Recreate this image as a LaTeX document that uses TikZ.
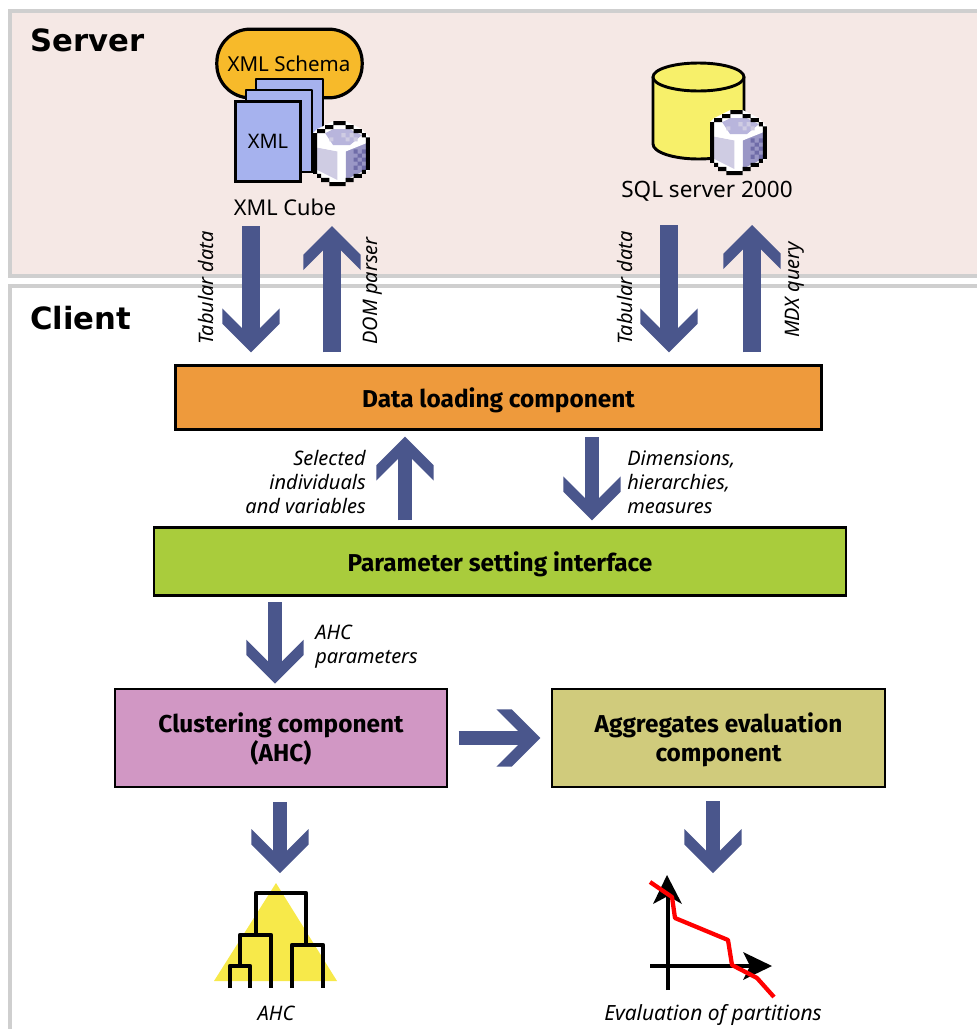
\documentclass[tikz,border=0pt]{standalone}
\usepackage{fontspec}
\setmainfont{Noto Sans}
\newfontfamily\headfont{DejaVu Sans}
\newfontfamily\boxfont{Fira Sans}
\usetikzlibrary{arrows.meta,calc,shapes.geometric}
\definecolor{flowblue}{HTML}{4A568C}
\definecolor{panelbg}{HTML}{F5E8E5}
\definecolor{panelline}{HTML}{CFCFCF}
\definecolor{loadc}{HTML}{EE9A3C}
\definecolor{paramc}{HTML}{A9CC3C}
\definecolor{clusterc}{HTML}{D197C4}
\definecolor{aggc}{HTML}{D0CB7C}
\definecolor{schemac}{HTML}{F7BA2A}
\definecolor{pagec}{HTML}{A6B2EE}
\definecolor{cylc}{HTML}{F7F06A}
\definecolor{triac}{HTML}{F7E94A}
\definecolor{cubel}{HTML}{CFCCE3}
\definecolor{cuber}{HTML}{9A97C6}
\definecolor{cubet}{HTML}{B8B5DC}
\definecolor{cubed}{HTML}{6F6CA8}
\makeatletter
\pgfdeclarearrow{
  name=Chevron,
  parameters={\the\pgfarrowlength,\the\pgfarrowwidth},
  setup code={
    \pgfarrowssettipend{0pt}
    \pgfarrowssetbackend{-\pgfarrowlength}
    \pgf@xa=\pgfarrowlength
    \advance\pgf@xa by -0.5\pgfarrowwidth
    \advance\pgf@xa by 0.5\pgflinewidth
    \pgf@xb=\pgf@xa
    \advance\pgf@xb by -1pt
    \pgfarrowssetlineend{-\pgf@xb}
    \pgfarrowssavethe\pgfarrowlength
    \pgfarrowssavethe\pgfarrowwidth
    \pgfarrowssavethe\pgflinewidth
    \pgfarrowssavethe\pgf@xa
  },
  drawing code={
    \pgfpathmoveto{\pgfqpoint{0pt}{0pt}}
    \pgfpathlineto{\pgfqpoint{-0.5\pgfarrowwidth}{0.5\pgfarrowwidth}}
    \pgfpathlineto{\pgfqpoint{-\pgfarrowlength}{0.5\pgfarrowwidth}}
    \pgfpathlineto{\pgfqpoint{-\pgf@xa}{0.5\pgflinewidth}}
    \pgfpathlineto{\pgfqpoint{-\pgf@xa}{-0.5\pgflinewidth}}
    \pgfpathlineto{\pgfqpoint{-\pgfarrowlength}{-0.5\pgfarrowwidth}}
    \pgfpathlineto{\pgfqpoint{-0.5\pgfarrowwidth}{-0.5\pgfarrowwidth}}
    \pgfpathclose
    \pgfusepathqfill
  },
  defaults={length=33pt,width=43pt}
}
\makeatother
\tikzset{
  panel/.style={fill=panelbg,draw=panelline,line width=3pt},
  compbox/.style={draw=black,line width=1.6pt,align=center,inner sep=0pt,font=\boxfont\fontsize{18.3}{21.7}\selectfont\bfseries},
  oneline/.style={text height=19.5pt,text depth=4pt},
  flow/.style={draw=flowblue,line width=13pt,-{Chevron[length=33pt,width=43pt]}},
  flowthin/.style={draw=flowblue,line width=10.5pt,-{Chevron[length=33pt,width=43pt]}},
  lab/.style={font=\fontsize{15}{18}\selectfont\itshape,inner sep=0pt},
  iconlab/.style={font=\fontsize{16.3}{18}\selectfont,inner sep=0pt},
  headlab/.style={font=\headfont\fontsize{23}{26}\selectfont\bfseries,inner sep=0pt,anchor=west},
  iconline/.style={draw=black,line width=2.2pt,line join=round},
  dendro/.style={draw=black,line width=3.4pt,line join=round},
  cubeicon/.pic={
    \begin{scope}[x=3.05pt,y=-3.05pt]
      \fill[white] (0,3)--(1,2)--(3,1)--(5,0)--(8,0)--(10,1)--(12,2)--(13,3)--(14,4)--(14,12)--(12,13)--(10,14)--(8,15)--(8,16)--(5,16)--(4,15)--(2,14)--(0,12)--cycle;
      \fill[cubet] (3,3)--(5,2)--(9,2)--(12,3.5)--(9,6)--(5,6)--cycle;
      \fill[cubel] (1,6.5)--(6,7.5)--(6,14.5)--(1,12)--cycle;
      \fill[cuber] (8,7.5)--(13,5)--(13,12)--(8,14.5)--cycle;
      \fill[white] (1,5)--(4,6)--(10,6)--(13,4.5)--(13,5.5)--(8,7.5)--(8,15)--(6.5,15)--(6.5,7.5)--(1,6.5)--cycle;
      \fill[cubed] \foreach \c/\r in {10/7,11/8,10/9,11/10,12/7,12/9,12/11,10/11}{(\c,\r) rectangle ++(1,1)};
      \fill[cubel] \foreach \c/\r in {7/3,9/3,8/4,10/4,4/4}{(\c,\r) rectangle ++(1,1)};
      \fill[black] \foreach \c/\r in {5/0,6/0,7/0,3/1,4/1,8/1,9/1,1/2,2/2,10/2,11/2,0/3,12/3,13/4,13/5,13/6,13/7,13/8,13/9,13/10,13/11,0/4,0/5,0/6,0/7,0/8,0/9,0/10,0/11,0/12,1/13,12/12,2/14,3/14,10/13,11/13,4/15,8/14,9/14,5/15,6/15,7/15}{(\c,\r) rectangle ++(1,1)};
    \end{scope}
  }
}
\begin{document}
\begin{tikzpicture}[x=0.75pt,y=-0.75pt]
\useasboundingbox (0,0) rectangle (977,1029);
\clip (0,0) rectangle (977,1029);
% panels
\draw[panel] (9.5,11) rectangle (990,275.5);
\draw[panelline,line width=3pt,fill=white] (9.5,1040) -- (9.5,285.5) -- (990,285.5);
\node[headlab] (server) at (30,40) {Server};
\node[headlab] (client) at (30,318) {Client};
% XML icon
\node[draw=black,line width=2.4pt,fill=schemac,rounded corners=25pt,minimum width=109pt,minimum height=51.5pt,inner sep=0pt] (schema) at (289.5,63.5) {};
\node[iconlab,font=\fontsize{15.4}{18}\selectfont] at (289,64) {XML Schema};
\draw[iconline,fill=pagec] (256,79) rectangle (323,172);
\draw[iconline,fill=pagec] (246,90) rectangle (312,172);
\node[draw=black,line width=2.2pt,fill=pagec,minimum width=49pt,minimum height=60pt,inner sep=0pt,font=\fontsize{15}{18}\selectfont] (xmldoc) at (268,141.5) {XML};
\pic at (313,121) {cubeicon};
\node[iconlab] (xmlcube) at (285,207) {XML Cube};
% SQL icon
\draw[iconline,fill=cylc] (653,77) -- (653,144) arc[start angle=180,end angle=0,x radius=45.5,y radius=15] -- (744,77) -- cycle;
\draw[iconline,fill=cylc] (698.5,77) ellipse[x radius=45.5,y radius=14];
\pic at (710,110) {cubeicon};
\node[iconlab,font=\fontsize{16.9}{18}\selectfont] (sqlserver) at (707,191) {SQL server 2000};
% boxes
\node[compbox,oneline,fill=loadc,minimum width=484.5pt,minimum height=48pt] (load) at (498.5,397.5) {Data loading component};
\node[compbox,oneline,fill=paramc,minimum width=519pt,minimum height=51pt] (param) at (500,561.5) {Parameter setting interface};
\node[compbox,fill=clusterc,minimum width=249pt,minimum height=73pt] (cluster) at (281,738) {\rule{0pt}{17pt}Clustering component\\(AHC)};
\node[compbox,fill=aggc,minimum width=249.5pt,minimum height=73pt] (agg) at (718.5,738) {\rule{0pt}{17pt}Aggregates evaluation\\component};
% free ends
\coordinate (a1) at (251,226);
\coordinate (a2) at (332,226);
\coordinate (a3) at (669,225);
\coordinate (a4) at (752,225);
\coordinate (a5) at (405,520);
\coordinate (a6) at (592,437);
\coordinate (a7) at (275,602);
\coordinate (a8) at (280,802);
\coordinate (a9) at (713,801);
\coordinate (t8) at (280,873);
\coordinate (t9) at (713,873);
% connectors
\draw[flow,shorten >=9pt] (a1) -- (a1 |- load.north);
\draw[flow,shorten <=9pt] (a2 |- load.north) -- (a2);
\draw[flow,shorten >=9pt] (a3) -- (a3 |- load.north);
\draw[flow,shorten <=9pt] (a4 |- load.north) -- (a4);
\draw[flowthin,shorten <=4.5pt,shorten >=4.5pt] (a5 |- param.north) -- (a5 |- load.south);
\draw[flowthin,shorten >=4.5pt] (a6) -- (a6 |- param.north);
\draw[flowthin,shorten >=3.5pt] (a7) -- (a7 |- cluster.north);
\draw[flowthin,shorten <=8pt,shorten >=8pt] (cluster.east) -- (agg.west);
\draw[flowthin] (a8) -- (t8);
\draw[flowthin] (a9) -- (t9);
% labels
\node[lab,rotate=90] (l1) at (206,288) {Tabular data};
\node[lab,rotate=90] (l2) at (373,291) {DOM parser};
\node[lab,rotate=90] (l3) at (625,288) {Tabular data};
\node[lab,rotate=90] (l4) at (795,290) {MDX query};
\node[lab,align=right,anchor=east] (l5) at (366,482) {Selected\\individuals\\and variables};
\node[lab,align=left,anchor=west] (l6) at (627,482.5) {Dimensions,\\hierarchies,\\measures};
\node[lab,align=left,anchor=west] (l7) at (315,646.5) {AHC\\parameters};
\node[lab] (l8) at (276,1013) {AHC};
\node[lab,font=\fontsize{15.7}{18}\selectfont\itshape] (l9) at (713,1015) {Evaluation of partitions};
% dendrogram
\fill[triac] (276,883) -- (337,981) -- (214,981) -- cycle;
\draw[dendro] (256,933) -- (256,893) -- (306,893) -- (306,943);
\draw[dendro] (240,965) -- (240,935) -- (271,935) -- (271,988);
\draw[dendro] (292,988) -- (292,945) -- (323,945) -- (323,988);
\draw[dendro] (230,988) -- (230,966) -- (250,966) -- (250,988);
% chart
\draw[black,line width=2.8pt] (668,990) -- (668,890);
\draw[black,line width=2.8pt] (650,966) -- (755,966);
\fill[black] (667,875) -- (682,904) -- (668,896) -- (653,904) -- cycle;
\fill[black] (772,966) -- (743,952) -- (750,966) -- (743,980) -- cycle;
\draw[red,line width=3.2pt,line join=round] (650,882) -- (672,897) -- (675,918) -- (728,940) -- (732,965) -- (757,978) -- (774,997);
\end{tikzpicture}
\end{document}
